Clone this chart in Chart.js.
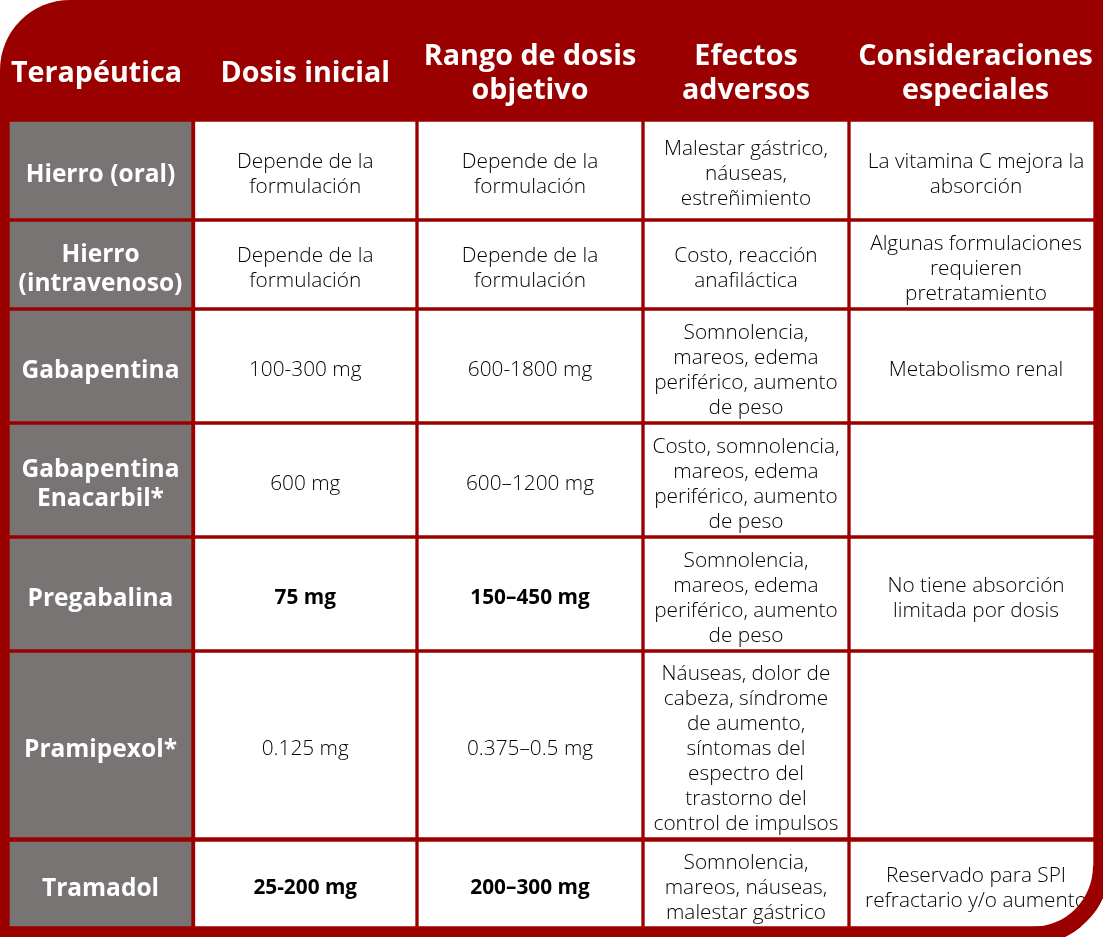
<!DOCTYPE html>
<html lang="es">
<head>
<meta charset="utf-8">
<title>Terapéutica SPI</title>
<script src="https://cdn.jsdelivr.net/npm/chart.js@4.4.1/dist/chart.umd.min.js"></script>
<style>
  html, body { margin: 0; padding: 0; background: #fff; }
  canvas { display: block; }
</style>
</head>
<body>
<canvas id="tabla" width="1103" height="937"></canvas>
<script>
// table content
const headers = ["Terapéutica", "Dosis inicial", "Rango de dosis\nobjetivo", "Efectos\nadversos", "Consideraciones\nespeciales"];
const therapies = ["Hierro (oral)", "Hierro\n(intravenoso)", "Gabapentina", "Gabapentina\nEnacarbil*", "Pregabalina", "Pramipexol*", "Tramadol"];
const initialDose = ["Depende de la\nformulación", "Depende de la\nformulación", "100-300 mg", "600 mg", "75 mg", "0.125 mg", "25-200 mg"];
const targetRange = ["Depende de la\nformulación", "Depende de la\nformulación", "600-1800 mg", "600–1200 mg", "150–450 mg", "0.375–0.5 mg", "200–300 mg"];
const adverseEffects = [
  "Malestar gástrico,\nnáuseas,\nestreñimiento",
  "Costo, reacción\nanafiláctica",
  "Somnolencia,\nmareos, edema\nperiférico, aumento\nde peso",
  "Costo, somnolencia,\nmareos, edema\nperiférico, aumento\nde peso",
  "Somnolencia,\nmareos, edema\nperiférico, aumento\nde peso",
  "Náuseas, dolor de\ncabeza, síndrome\nde aumento,\nsíntomas del\nespectro del\ntrastorno del\ncontrol de impulsos",
  "Somnolencia,\nmareos, náuseas,\nmalestar gástrico"
];
const considerations = [
  "La vitamina C mejora la\nabsorción",
  "Algunas formulaciones\nrequieren\npretratamiento",
  "Metabolismo renal",
  "",
  "No tiene absorción\nlimitada por dosis",
  "",
  "Reservado para SPI\nrefractario y/o aumento"
];
const boldDoseRows = ["Pregabalina", "Tramadol"];

// layout (pixels on a 1103 x 937 grid)
const RED = "#9b0000";
const GREY = "#787474";
const colEdges = [[10, 191], [195.5, 415], [419, 641], [645, 847], [851, 1093]];
const rowEdges = [[122, 218], [222, 307], [311, 421], [425, 535], [539, 649], [653, 837], [842, 926]];
const headerMid = 74;
const headerShift = [-4, 0, 0, 0, 3.5];
const textShift = [0, 0, 0, 0, 4];

const columns = [therapies, initialDose, targetRange, adverseEffects, considerations];

const datasets = columns.map((col, c) => ({
  label: headers[c].replace("\n", " "),
  texts: col,
  data: col.map((_, r) => ({ x: (colEdges[c][0] + colEdges[c][1]) / 2, y: rowEdges[r] })),
  barThickness: colEdges[c][1] - colEdges[c][0],
  backgroundColor: c === 0 ? GREY : "#ffffff",
  borderWidth: 0,
  grouped: false
}));

function outerPath(ctx) {
  ctx.beginPath();
  ctx.roundRect(0, 0, 1110, 945, [70, 0, 80, 0]);
}

const frame = {
  id: "frame",
  beforeDraw(chart) {
    const ctx = chart.ctx;
    ctx.save();
    outerPath(ctx);
    ctx.fillStyle = RED;
    ctx.fill();
    ctx.restore();
  },
  afterDatasetsDraw(chart) {
    const ctx = chart.ctx;
    const xs = chart.scales.x, ys = chart.scales.y;
    ctx.save();
    ctx.textAlign = "center";
    ctx.textBaseline = "middle";

    // header
    ctx.fillStyle = "#ffffff";
    ctx.font = '700 28.7px "Open Sans"';
    headers.forEach((h, c) => {
      const lines = h.split("\n");
      const cx = xs.getPixelForValue((colEdges[c][0] + colEdges[c][1]) / 2 + headerShift[c]);
      const cy = ys.getPixelForValue(headerMid);
      lines.forEach((ln, i) => ctx.fillText(ln, cx, cy + (i - (lines.length - 1) / 2) * 34));
    });

    // cells
    chart.data.datasets.forEach((ds, c) => {
      const meta = chart.getDatasetMeta(c);
      meta.data.forEach((el, r) => {
        const p = el.getProps(["x", "y", "base"], true);
        let cy = (p.y + p.base) / 2 + 4.5;
        const cx = p.x + textShift[c];
        const lines = ds.texts[r].split("\n");
        let lh = 25;
        if (c === 0) {
          ctx.font = '700 24.5px "Open Sans"';
          ctx.fillStyle = "#ffffff";
          lh = 29;
          cy += 0.5;
        } else if ((c === 1 || c === 2) && boldDoseRows.includes(therapies[r])) {
          ctx.font = '700 20.8px "Open Sans"';
          ctx.fillStyle = "#000000";
        } else {
          ctx.font = '300 20.8px "Open Sans"';
          ctx.fillStyle = "#000000";
        }
        lines.forEach((ln, i) => ctx.fillText(ln, cx, cy + (i - (lines.length - 1) / 2) * lh));
      });
    });
    ctx.restore();
  },
  afterDraw(chart) {
    // rounded border over the bottom-right corner
    const ctx = chart.ctx;
    const cx = 1032, cy = 866, rIn = 61;
    ctx.save();
    outerPath(ctx);
    ctx.clip();
    ctx.beginPath();
    ctx.rect(cx, cy, 100, 100);
    ctx.moveTo(cx, cy);
    ctx.arc(cx, cy, rIn, 0, Math.PI / 2);
    ctx.closePath();
    ctx.fillStyle = RED;
    ctx.fill("evenodd");
    ctx.restore();
  }
};

new Chart(document.getElementById("tabla"), {
  type: "bar",
  data: { datasets: datasets },
  options: {
    responsive: false,
    animation: false,
    devicePixelRatio: 1,
    layout: { padding: 0 },
    plugins: { legend: { display: false }, tooltip: { enabled: false } },
    scales: {
      x: { type: "linear", min: 0, max: 1103, offset: false, display: false },
      y: { type: "linear", min: 0, max: 937, reverse: true, display: false }
    }
  },
  plugins: [frame]
});
</script>
</body>
</html>
